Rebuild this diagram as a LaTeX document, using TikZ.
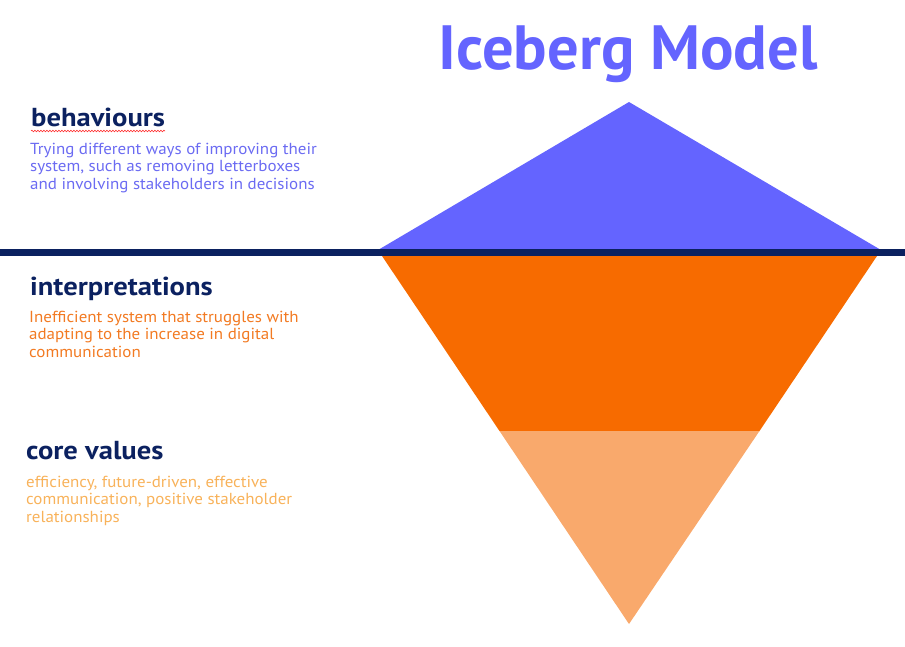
\documentclass[tikz,border=0pt]{standalone}
\usepackage{fontspec}
\setmainfont{PT Sans}
\newfontfamily\headfont[FakeStretch=1.1]{PT Sans}
\newfontfamily\bodyfont[FakeStretch=1.06]{PT Sans}
\usetikzlibrary{decorations.pathmorphing}
\definecolor{iceblue}{HTML}{6464FF}
\definecolor{iceorange}{HTML}{F76B00}
\definecolor{icelight}{HTML}{F9A96C}
\definecolor{navy}{HTML}{0B2160}
\definecolor{txtblue}{HTML}{6B6BF2}
\definecolor{txtorange}{HTML}{F27A22}
\definecolor{txtlight}{HTML}{F8B25A}
\tikzset{
  heading/.style={anchor=base west, inner sep=0pt, text=navy, font=\headfont\bfseries\fontsize{26}{30}\selectfont},
  body/.style={anchor=base west, inner sep=0pt, font=\bodyfont\fontsize{16}{18}\selectfont},
}
\begin{document}
\begin{tikzpicture}[x=1pt,y=-1pt]
\useasboundingbox (0,0) rectangle (905,647);
% iceberg
\fill[iceblue] (378,250) -- (629,102) -- (881,250) -- cycle;
\fill[iceorange] (382,256) -- (877,256) -- (759.5,431) -- (499.5,431) -- cycle;
\fill[icelight] (499.5,431) -- (759.5,431) -- (629,624) -- cycle;
\coordinate (wl) at (0,252.5);
\coordinate (wr) at (905,252.5);
\draw[navy, line width=7pt] (wl) -- (wr);
% title
\node[anchor=base, inner sep=0pt, text=iceblue, font=\bfseries\fontsize{62.5}{70}\selectfont] (title) at (628,70) {Iceberg Model};
% behaviours
\node[heading] (h1) at (31,127) {behaviours};
\draw[red!80, line width=0.6pt, decorate, decoration={snake, amplitude=0.8pt, segment length=3pt}] (31,131) -- (165,131);
\node[body, text=txtblue] (b1) at (30,155) {Trying different ways of improving their};
\node[body, text=txtblue] (b2) at (30,172) {system, such as removing letterboxes};
\node[body, text=txtblue] (b3) at (30,190) {and involving stakeholders in decisions};
% interpretations
\node[heading] (h2) at (30,295) {interpretations};
\node[body, text=txtorange] (i1) at (29,322) {Inefficient system that struggles with};
\node[body, text=txtorange] (i2) at (29,339) {adapting to the increase in digital};
\node[body, text=txtorange] (i3) at (29,357) {communication};
% core values
\node[heading] (h3) at (26,459) {core values};
\node[body, text=txtlight] (c1) at (26,487) {efficiency, future-driven, effective};
\node[body, text=txtlight] (c2) at (26,504) {communication, positive stakeholder};
\node[body, text=txtlight] (c3) at (26,522) {relationships};
\end{tikzpicture}
\end{document}
